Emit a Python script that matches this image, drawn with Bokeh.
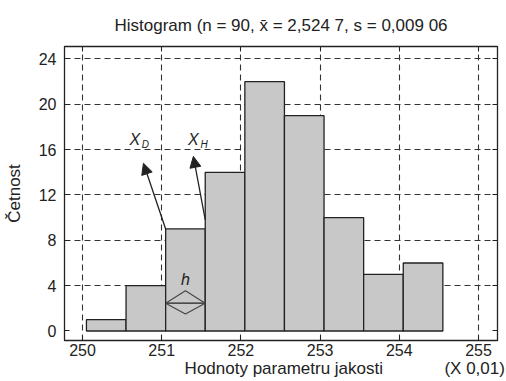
from bokeh.plotting import figure
from bokeh.models import (Range1d, FixedTicker, LinearAxis, Label, Arrow, NormalHead,
                          ColumnDataSource)
from bokeh.embed import file_html
from bokeh.resources import INLINE

# ---- data ----
bin_edges = [250.05, 250.55, 251.05, 251.55, 252.05, 252.55, 253.05, 253.55, 254.05, 254.55]
counts = [1, 4, 9, 14, 22, 19, 10, 5, 6]
x_ticks = [250, 251, 252, 253, 254, 255]
y_ticks = [0, 4, 8, 12, 16, 20, 24]
y_grid = [4, 8, 12, 16, 20, 24]

FONT = "Liberation Sans"
INK = "#222222"

title_text = "Histogram (n = 90, x\u0304 = 2,524 7, s = 0,009 06"
NB = "\u00a0"
x_label_text = NB * 27 + "Hodnoty parametru jakosti" + NB * 13 + "(X 0,01)"

p = figure(width=506, height=381, output_backend="svg", toolbar_location=None,
           x_range=Range1d(249.773, 255.24), y_range=Range1d(-0.84, 25.1),
           min_border_left=64, min_border_right=9, min_border_top=46, min_border_bottom=41,
           title=title_text)
p.background_fill_color = "white"
p.border_fill_color = "white"
p.outline_line_color = INK
p.outline_line_width = 1.3

p.title.text_font = FONT
p.title.text_font_size = "17px"
p.title.text_font_style = "normal"
p.title.text_color = INK
p.title.align = "center"
p.title.standoff = 24

# grid
p.xgrid.ticker = FixedTicker(ticks=x_ticks)
p.ygrid.ticker = FixedTicker(ticks=y_grid)
for g in (p.xgrid, p.ygrid):
    g.grid_line_color = "#333333"
    g.grid_line_dash = "6 4"
    g.grid_line_width = 1.1

src = ColumnDataSource(dict(left=bin_edges[:-1], right=bin_edges[1:],
                            top=counts, bottom=[0] * len(counts)))
p.quad(left="left", right="right", top="top", bottom="bottom", source=src,
       fill_color="#c8c8c8", line_color=INK, line_width=1.3)

# axes
for ax in (p.xaxis[0], p.yaxis[0]):
    ax.major_tick_in = 5
    ax.major_tick_out = 0
    ax.minor_tick_line_color = None
    ax.axis_line_color = INK
    ax.major_tick_line_color = INK
    ax.major_label_text_font = FONT
    ax.major_label_text_font_size = "16px"
    ax.major_label_text_color = INK
    ax.axis_label_text_font = FONT
    ax.axis_label_text_font_size = "17px"
    ax.axis_label_text_font_style = "normal"
    ax.axis_label_text_color = INK
p.xaxis[0].ticker = FixedTicker(ticks=x_ticks)
p.yaxis[0].ticker = FixedTicker(ticks=y_ticks)
p.xaxis[0].major_label_standoff = 3
p.xaxis[0].axis_label = x_label_text
p.xaxis[0].axis_label_standoff = 0
p.yaxis[0].major_label_standoff = 8
p.yaxis[0].axis_label = "Četnost"
p.yaxis[0].axis_label_standoff = 12

for side, ticks in (("right", y_ticks), ("above", x_ticks)):
    a = LinearAxis(ticker=FixedTicker(ticks=ticks), major_label_text_font_size="1px",
                   major_label_text_color=None, major_tick_in=5, major_tick_out=0,
                   minor_tick_line_color=None, axis_line_color=None,
                   major_tick_line_color=INK, major_label_standoff=0)
    p.add_layout(a, side)

# arrows X_D, X_H
for (x0, y0, x1, y1) in [(251.05, 9.0, 250.77, 14.8), (251.55, 9.8, 251.40, 15.4)]:
    p.add_layout(Arrow(x_start=x0, y_start=y0, x_end=x1, y_end=y1,
                       line_color=INK, line_width=1.3,
                       end=NormalHead(size=11, fill_color=INK, line_color=INK)))

for (x, y, big, sub) in [(250.66, 16.9, "X", "D"), (251.40, 16.9, "X", "H")]:
    p.add_layout(Label(x=x, y=y, text=big, text_font=FONT, text_font_size="16px",
                       text_font_style="italic", text_align="center", text_baseline="middle",
                       text_color=INK))
    p.add_layout(Label(x=x + 0.135, y=y - 0.45, text=sub, text_font=FONT, text_font_size="10px",
                       text_font_style="italic", text_align="center", text_baseline="middle",
                       text_color=INK))

# h width marker
hx0, hx1 = bin_edges[2], bin_edges[3]
hm = (hx0 + hx1) / 2
p.line([hx0, hx1], [2.45, 2.45], line_color=INK, line_width=1.3)
p.line([hx0, hm, hx1, hm, hx0], [2.45, 3.55, 2.45, 1.5, 2.45], line_color="#444444", line_width=1.1)
p.add_layout(Label(x=hm, y=4.5, text="h", text_font=FONT, text_font_size="16px",
                   text_font_style="italic", text_align="center", text_baseline="middle",
                   text_color=INK))

html = file_html(p, INLINE)
html = html.replace("<head>", "<head><style>html, body {overflow: hidden;}</style>", 1)
open("out.html", "w").write(html)
